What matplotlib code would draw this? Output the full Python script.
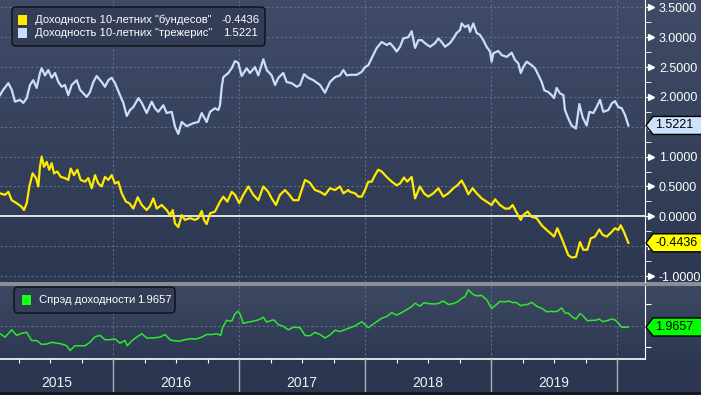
import numpy as np
import matplotlib
matplotlib.use('Agg')
import matplotlib.pyplot as plt
from matplotlib import font_manager
from matplotlib.patches import Polygon, Rectangle, FancyBboxPatch
from matplotlib.transforms import blended_transform_factory, IdentityTransform, offset_copy

# --- data (decimal years, yields in %) ---
ust_t = [2015.103, 2015.129, 2015.169, 2015.196, 2015.222, 2015.262, 2015.288, 2015.315, 2015.341, 2015.367,
         2015.394, 2015.420, 2015.434, 2015.460, 2015.486, 2015.513, 2015.540, 2015.566, 2015.593, 2015.619,
         2015.645, 2015.672, 2015.712, 2015.738, 2015.764, 2015.791, 2015.817, 2015.844, 2015.870, 2015.910,
         2015.936, 2015.963, 2015.989, 2016.016, 2016.055, 2016.082, 2016.109, 2016.135, 2016.161, 2016.201,
         2016.228, 2016.267, 2016.307, 2016.333, 2016.359, 2016.399, 2016.426, 2016.466, 2016.492, 2016.518,
         2016.545, 2016.585, 2016.637, 2016.677, 2016.704, 2016.743, 2016.770, 2016.809, 2016.836, 2016.849,
         2016.862, 2016.875, 2016.915, 2016.942, 2016.968, 2016.994, 2017.021, 2017.061, 2017.087, 2017.127,
         2017.153, 2017.193, 2017.220, 2017.259, 2017.286, 2017.312, 2017.351, 2017.378, 2017.418, 2017.458,
         2017.484, 2017.516, 2017.550, 2017.590, 2017.643, 2017.682, 2017.722, 2017.762, 2017.801, 2017.828,
         2017.855, 2017.881, 2017.934, 2017.974, 2018.000, 2018.026, 2018.053, 2018.093, 2018.132, 2018.172,
         2018.198, 2018.224, 2018.251, 2018.278, 2018.304, 2018.343, 2018.370, 2018.397, 2018.423, 2018.450,
         2018.476, 2018.516, 2018.555, 2018.582, 2018.608, 2018.635, 2018.674, 2018.701, 2018.727, 2018.754,
         2018.767, 2018.793, 2018.820, 2018.833, 2018.859, 2018.886, 2018.912, 2018.939, 2018.965, 2018.992,
         2019.005, 2019.018, 2019.058, 2019.085, 2019.124, 2019.164, 2019.190, 2019.217, 2019.236, 2019.256,
         2019.283, 2019.323, 2019.349, 2019.375, 2019.402, 2019.423, 2019.455, 2019.481, 2019.500, 2019.521,
         2019.547, 2019.574, 2019.587, 2019.613, 2019.640, 2019.674, 2019.701, 2019.727, 2019.759, 2019.780,
         2019.812, 2019.838, 2019.865, 2019.891, 2019.931, 2019.958, 2019.984, 2020.010, 2020.037, 2020.063,
         2020.090]
ust_y = [2.03, 2.12, 2.23, 2.12, 1.92, 1.95, 1.90, 1.98, 2.20, 2.28,
         2.15, 2.40, 2.48, 2.36, 2.45, 2.32, 2.40, 2.25, 2.17, 2.20,
         2.03, 2.20, 2.28, 2.12, 2.06, 2.00, 2.08, 2.25, 2.35, 2.25,
         2.17, 2.28, 2.32, 2.23, 2.03, 1.90, 1.68, 1.78, 1.83, 1.98,
         1.90, 1.73, 1.92, 1.81, 1.75, 1.86, 1.73, 1.75, 1.50, 1.38,
         1.58, 1.51, 1.56, 1.58, 1.73, 1.58, 1.75, 1.81, 1.78, 1.86,
         2.15, 2.33, 2.40, 2.48, 2.60, 2.57, 2.35, 2.48, 2.40, 2.50,
         2.36, 2.63, 2.45, 2.36, 2.20, 2.32, 2.40, 2.25, 2.23, 2.17,
         2.20, 2.38, 2.32, 2.28, 2.20, 2.07, 2.25, 2.33, 2.36, 2.45,
         2.36, 2.37, 2.37, 2.42, 2.50, 2.53, 2.65, 2.82, 2.92, 2.87,
         2.90, 2.84, 2.76, 2.84, 2.98, 3.00, 3.10, 2.82, 2.95, 2.95,
         2.90, 2.84, 2.90, 2.98, 2.92, 2.84, 2.90, 2.98, 3.07, 3.12,
         3.23, 3.17, 3.20, 3.09, 3.23, 3.07, 3.04, 2.95, 2.84, 2.76,
         2.59, 2.73, 2.77, 2.70, 2.67, 2.74, 2.62, 2.56, 2.40, 2.50,
         2.59, 2.53, 2.48, 2.37, 2.25, 2.11, 2.08, 2.03, 1.98, 2.15,
         2.06, 2.03, 1.78, 1.64, 1.52, 1.47, 1.88, 1.66, 1.52, 1.75,
         1.73, 1.83, 1.95, 1.75, 1.78, 1.89, 1.93, 1.83, 1.81, 1.70,
         1.5221]

bund_t = [2015.103, 2015.143, 2015.169, 2015.196, 2015.235, 2015.275, 2015.293, 2015.315, 2015.336, 2015.362,
          2015.389, 2015.407, 2015.420, 2015.434, 2015.452, 2015.474, 2015.494, 2015.513, 2015.532, 2015.558,
          2015.585, 2015.619, 2015.645, 2015.664, 2015.690, 2015.717, 2015.743, 2015.778, 2015.804, 2015.831,
          2015.857, 2015.883, 2015.910, 2015.936, 2015.963, 2015.989, 2016.016, 2016.042, 2016.069, 2016.103,
          2016.129, 2016.161, 2016.196, 2016.228, 2016.267, 2016.293, 2016.320, 2016.347, 2016.386, 2016.426,
          2016.452, 2016.474, 2016.492, 2016.518, 2016.545, 2016.571, 2016.611, 2016.651, 2016.677, 2016.704,
          2016.722, 2016.743, 2016.770, 2016.809, 2016.849, 2016.875, 2016.907, 2016.942, 2016.968, 2017.002,
          2017.034, 2017.074, 2017.113, 2017.153, 2017.193, 2017.232, 2017.259, 2017.293, 2017.325, 2017.365,
          2017.399, 2017.431, 2017.471, 2017.497, 2017.524, 2017.563, 2017.603, 2017.643, 2017.682, 2017.722,
          2017.762, 2017.801, 2017.828, 2017.867, 2017.881, 2017.921, 2017.947, 2017.974, 2018.000, 2018.026,
          2018.053, 2018.079, 2018.105, 2018.132, 2018.172, 2018.212, 2018.251, 2018.278, 2018.309, 2018.335,
          2018.370, 2018.397, 2018.436, 2018.468, 2018.502, 2018.542, 2018.582, 2018.621, 2018.661, 2018.701,
          2018.733, 2018.767, 2018.793, 2018.820, 2018.854, 2018.886, 2018.926, 2018.965, 2019.005, 2019.032,
          2019.071, 2019.111, 2019.145, 2019.172, 2019.198, 2019.236, 2019.256, 2019.291, 2019.323, 2019.362,
          2019.402, 2019.442, 2019.481, 2019.500, 2019.526, 2019.561, 2019.587, 2019.613, 2019.640, 2019.674,
          2019.706, 2019.732, 2019.764, 2019.791, 2019.825, 2019.859, 2019.886, 2019.918, 2019.958, 2019.984,
          2020.010, 2020.029, 2020.055, 2020.090]
bund_y = [0.385, 0.36, 0.41, 0.27, 0.22, 0.16, 0.105, 0.22, 0.50, 0.72,
          0.64, 0.50, 0.83, 1.00, 0.83, 0.91, 0.78, 0.89, 0.72, 0.75,
          0.66, 0.64, 0.61, 0.80, 0.69, 0.78, 0.61, 0.58, 0.64, 0.47,
          0.69, 0.55, 0.50, 0.66, 0.61, 0.69, 0.55, 0.58, 0.385, 0.245,
          0.22, 0.13, 0.32, 0.19, 0.105, 0.17, 0.30, 0.13, 0.19, 0.105,
          0.02, 0.105, -0.12, -0.18, 0.02, -0.06, -0.03, -0.06, -0.03, 0.09,
          -0.06, -0.13, 0.05, 0.08, 0.245, 0.33, 0.245, 0.41, 0.36, 0.22,
          0.36, 0.50, 0.36, 0.27, 0.50, 0.41, 0.30, 0.19, 0.36, 0.44,
          0.36, 0.27, 0.27, 0.44, 0.61, 0.56, 0.44, 0.41, 0.36, 0.47,
          0.44, 0.50, 0.385, 0.44, 0.41, 0.385, 0.33, 0.33, 0.44, 0.58,
          0.58, 0.69, 0.78, 0.75, 0.66, 0.58, 0.52, 0.55, 0.65, 0.58,
          0.66, 0.30, 0.50, 0.385, 0.33, 0.385, 0.47, 0.33, 0.385, 0.47,
          0.52, 0.60, 0.50, 0.37, 0.47, 0.385, 0.30, 0.245, 0.19, 0.285,
          0.19, 0.13, 0.13, 0.19, 0.08, -0.06, 0.02, 0.08, -0.01, -0.03,
          -0.15, -0.23, -0.30, -0.34, -0.20, -0.37, -0.51, -0.65, -0.69, -0.68,
          -0.43, -0.56, -0.56, -0.37, -0.34, -0.22, -0.31, -0.34, -0.26, -0.20,
          -0.23, -0.15, -0.26, -0.4436]

spread_t = [2015.103, 2015.143, 2015.196, 2015.235, 2015.275, 2015.315, 2015.354, 2015.394, 2015.434, 2015.474,
            2015.513, 2015.553, 2015.593, 2015.632, 2015.659, 2015.698, 2015.738, 2015.778, 2015.817, 2015.857,
            2015.897, 2015.936, 2015.976, 2016.016, 2016.055, 2016.095, 2016.113, 2016.148, 2016.188, 2016.228,
            2016.267, 2016.320, 2016.373, 2016.413, 2016.452, 2016.492, 2016.532, 2016.571, 2016.611, 2016.664,
            2016.704, 2016.743, 2016.783, 2016.823, 2016.855, 2016.870, 2016.902, 2016.942, 2016.968, 2016.989,
            2017.008, 2017.034, 2017.074, 2017.113, 2017.153, 2017.193, 2017.220, 2017.259, 2017.278, 2017.312,
            2017.351, 2017.391, 2017.431, 2017.484, 2017.524, 2017.563, 2017.603, 2017.643, 2017.682, 2017.722,
            2017.762, 2017.801, 2017.855, 2017.921, 2017.974, 2018.026, 2018.079, 2018.132, 2018.172, 2018.212,
            2018.251, 2018.309, 2018.370, 2018.397, 2018.436, 2018.468, 2018.502, 2018.542, 2018.582, 2018.621,
            2018.661, 2018.701, 2018.733, 2018.767, 2018.793, 2018.820, 2018.854, 2018.886, 2018.926, 2018.965,
            2019.005, 2019.032, 2019.071, 2019.111, 2019.145, 2019.172, 2019.198, 2019.236, 2019.256, 2019.291,
            2019.323, 2019.362, 2019.402, 2019.442, 2019.481, 2019.500, 2019.526, 2019.561, 2019.587, 2019.613,
            2019.640, 2019.674, 2019.706, 2019.732, 2019.764, 2019.791, 2019.825, 2019.859, 2019.886, 2019.918,
            2019.958, 2019.984, 2020.010, 2020.037, 2020.063, 2020.090]
spread_y = [1.81, 1.73, 1.90, 1.77, 1.82, 1.84, 1.65, 1.65, 1.56, 1.57,
            1.61, 1.59, 1.57, 1.53, 1.42, 1.53, 1.53, 1.53, 1.61, 1.74,
            1.77, 1.67, 1.67, 1.69, 1.59, 1.65, 1.53, 1.64, 1.73, 1.81,
            1.71, 1.71, 1.73, 1.79, 1.67, 1.64, 1.64, 1.67, 1.69, 1.69,
            1.73, 1.79, 1.79, 1.81, 1.77, 1.96, 2.12, 2.10, 2.27, 2.33,
            2.27, 2.05, 2.08, 2.10, 2.13, 2.19, 2.08, 2.12, 2.13, 2.02,
            1.98, 1.90, 1.96, 1.95, 1.77, 1.76, 1.84, 1.79, 1.71, 1.78,
            1.89, 1.86, 1.92, 1.99, 2.09, 1.95, 2.06, 2.17, 2.21, 2.30,
            2.24, 2.33, 2.44, 2.52, 2.45, 2.53, 2.51, 2.50, 2.51, 2.57,
            2.49, 2.51, 2.55, 2.63, 2.67, 2.83, 2.73, 2.69, 2.70, 2.60,
            2.40, 2.46, 2.56, 2.55, 2.57, 2.53, 2.54, 2.46, 2.48, 2.49,
            2.54, 2.45, 2.40, 2.32, 2.33, 2.32, 2.33, 2.41, 2.29, 2.29,
            2.21, 2.15, 2.28, 2.22, 2.11, 2.12, 2.12, 2.15, 2.09, 2.11,
            2.15, 2.13, 2.06, 1.96, 1.96, 1.9657]

years = [2015, 2016, 2017, 2018, 2019]
year_bounds = [2016, 2017, 2018, 2019, 2020]
quarters = np.arange(2015.25, 2020.01, 0.25)
top_major = np.arange(-1.0, 3.51, 0.5)
top_minor = np.arange(-0.75, 3.5, 0.5)
x_range = (2015.103, 2020.222)

bund_name = 'Доходность 10-летних "бундесов"'
ust_name = 'Доходность 10-летних "трежерис"'
spread_name = 'Спрэд доходности'

YELLOW = '#ffea00'
BLUE = '#c9defa'
GREEN = '#2ee82e'
GRID = '#5d6d8a'

names = {f.name for f in font_manager.fontManager.ttflist}
narrow = 'Liberation Sans Narrow' if 'Liberation Sans Narrow' in names else 'Liberation Sans'
plt.rcParams['font.family'] = ['Liberation Sans', 'DejaVu Sans']

W, H = 701, 395
fig = plt.figure(figsize=(W / 100, H / 100), dpi=100)


def frac_box(left, top, width, height):
    return [left / W, 1 - (top + height) / H, width / W, height / H]


def lerp(c0, c1, n):
    a = np.array(matplotlib.colors.to_rgb(c0))
    b = np.array(matplotlib.colors.to_rgb(c1))
    return [a + (b - a) * k for k in np.linspace(0, 1, n)]


# background bands, row by row
rows = []
rows += lerp('#404c67', '#2c3751', 282)
rows += [matplotlib.colors.to_rgb('#8b8e95')] * 4
rows += lerp('#3d4963', '#2d3852', 73)
rows += [matplotlib.colors.to_rgb('#2c3650')] * 33
rows += [matplotlib.colors.to_rgb('#141923')] * 3
bg = fig.add_axes([0, 0, 1, 1], zorder=-10)
bg.imshow(np.array(rows)[:, None, :], aspect='auto', extent=[0, 1, 0, 1], interpolation='nearest')
bg.axis('off')

ax1 = fig.add_axes(frac_box(0, 0, 645, 282))
ax2 = fig.add_axes(frac_box(0, 286, 645, 73))
ax3 = fig.add_axes(frac_box(0, 359, 645, 33))
for ax in (ax1, ax2, ax3):
    ax.set_facecolor('none')
    ax.set_xlim(*x_range)

# top panel
ax1.set_ylim(-1.10, 3.623)
for v in top_major:
    if abs(v) < 1e-9:
        ax1.axhline(v, color='white', lw=1.2, zorder=2)
    else:
        ax1.axhline(v, color=GRID, lw=0.8, ls=(0, (2, 2)), zorder=1)
for b in year_bounds:
    ax1.axvline(b, color=GRID, lw=0.8, ls=(0, (2, 2)), zorder=1)
ax1.plot(ust_t, ust_y, color=BLUE, lw=1.6, zorder=3)
ax1.plot(bund_t, bund_y, color=YELLOW, lw=1.6, zorder=3)

for s in ('left', 'top', 'bottom'):
    ax1.spines[s].set_visible(False)
ax1.spines['right'].set_color('white')
ax1.set_xticks([])
ax1.yaxis.tick_right()
ax1.set_yticks(top_major)
ax1.set_yticklabels(['' if abs(v - 1.5) < 1e-9 or abs(v + 0.5) < 1e-9 else f'{v:.4f}' for v in top_major])
ax1.set_yticks(top_minor, minor=True)
ax1.tick_params(axis='y', which='major', length=4, color='white', labelcolor='white', labelsize=9, pad=6)
ax1.tick_params(axis='y', which='minor', length=4, color='white')
arrow_tr = offset_copy(blended_transform_factory(ax1.transAxes, ax1.transData), fig=fig, x=6, units='dots')
ax1.plot(np.ones(len(top_major)), top_major, transform=arrow_tr, ls='none', marker='>',
         ms=4, color='white', clip_on=False)

# bottom panel
ax2.set_ylim(1.221, 2.919)
ax2.axhline(2.0, color=GRID, lw=0.8, ls=(0, (2, 2)), zorder=1)
for b in year_bounds:
    ax2.axvline(b, color=GRID, lw=0.8, ls=(0, (2, 2)), zorder=1)
ax2.plot(spread_t, spread_y, color=GREEN, lw=1.1, zorder=3)
for s in ('left', 'top'):
    ax2.spines[s].set_visible(False)
ax2.spines['right'].set_color('white')
ax2.spines['bottom'].set_color('white')
ax2.spines['bottom'].set_linewidth(1.2)
ax2.yaxis.tick_right()
ax2.set_yticks([1.5, 2.5])
ax2.set_yticklabels([])
ax2.tick_params(axis='y', length=4, color='white')
ax2.set_xticks(quarters)
ax2.set_xticklabels([])
ax2.tick_params(axis='x', direction='out', length=3, color='white')

# date strip
ax3.set_ylim(0, 1)
ax3.axis('off')
for b in year_bounds:
    ax3.axvline(b, color='#a9aeb7', lw=1)
for yr in years:
    mid = (max(yr, x_range[0]) + min(yr + 1, x_range[1])) / 2
    ax3.text(mid, 0.27, str(yr), ha='center', va='center', color='#eef1f6',
             fontsize=10, family=[narrow, 'DejaVu Sans'])


def value_tag(ax, value, text, face):
    tr = blended_transform_factory(ax.transAxes, ax.transData)
    sx, sy = tr.transform((1, value))
    h = 9
    verts = [(sx + 1, sy), (sx + 8, sy + h), (W + 3, sy + h), (W + 3, sy - h), (sx + 8, sy - h)]
    fig.add_artist(Polygon(verts, closed=True, transform=IdentityTransform(), fc=face, ec='black',
                           lw=1, zorder=6))
    fig.text((sx + 10) / W, sy / H, text, ha='left', va='center', fontsize=9, color='black', zorder=7)


value_tag(ax1, ust_y[-1], f'{ust_y[-1]:.4f}', '#cde2fb')
value_tag(ax1, bund_y[-1], f'{bund_y[-1]:.4f}', '#ffff00')
value_tag(ax2, spread_y[-1], f'{spread_y[-1]:.4f}', '#00ff00')


def legend_box(left, top, width, height):
    fig.add_artist(FancyBboxPatch((left, H - top - height), width, height,
                                  boxstyle='round,pad=0,rounding_size=4', transform=IdentityTransform(),
                                  fc='#333e56', ec='#0c0f16', lw=1, zorder=5))


def legend_row(x, y, color, name, value, value_x):
    fig.add_artist(Rectangle((x, H - y - 5), 9, 10, transform=IdentityTransform(), fc=color,
                             ec='none', zorder=6))
    fig.text((x + 17) / W, 1 - y / H, name, ha='left', va='center', fontsize=8.1,
             color='white', zorder=7)
    fig.text(value_x / W, 1 - y / H, value, ha='left', va='center', fontsize=8.1,
             color='white', zorder=7)


legend_box(12, 7, 253, 39)
legend_row(18, 20, YELLOW, bund_name, f'{bund_y[-1]:.4f}', 221)
legend_row(18, 33, BLUE, ust_name, f'{ust_y[-1]:.4f}', 223)
legend_box(14, 287, 161, 26)
legend_row(22, 300, '#1cff1c', spread_name, f'{spread_y[-1]:.4f}', 137)

fig.savefig('out.png', dpi=100)
